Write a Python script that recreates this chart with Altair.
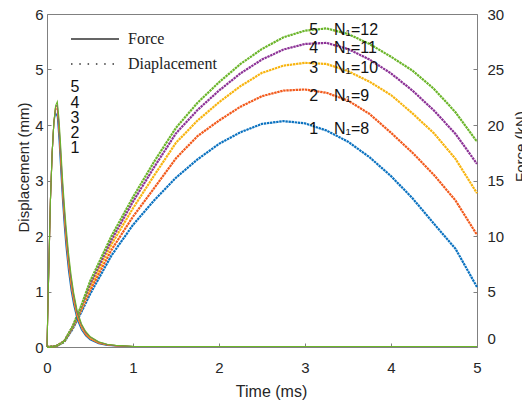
import altair as alt
import pandas as pd

# ---------------- data ----------------
series = ["1", "2", "3", "4", "5"]
colors = ["#0B72C0", "#F25A1C", "#F8B40F", "#8C3296", "#6BB52A"]

# force curves (kN) - right axis
t_force = [0, 0.02, 0.04, 0.06, 0.08, 0.10, 0.12, 0.14, 0.16, 0.18, 0.20, 0.22,
           0.25, 0.28, 0.31, 0.35, 0.40, 0.45, 0.50, 0.60, 0.70, 0.80, 1.0,
           1.5, 2.0, 3.0, 4.0, 5.0]
force_1 = [0, 6.75, 13.25, 17.5, 20.25, 21.1, 20.75, 18.6, 15.9, 13.25, 11.0, 9.1,
           6.85, 5.1, 3.8, 2.5, 1.55, 1.0, 0.65, 0.3, 0.15, 0.1, 0.05,
           0.05, 0.05, 0.05, 0.05, 0.05]
force_2 = [0, 6.75, 13.25, 17.5, 20.25, 21.5, 21.4, 19.4, 16.65, 14.0, 11.7, 9.75,
           7.4, 5.55, 4.15, 2.75, 1.75, 1.1, 0.75, 0.35, 0.18, 0.1, 0.05,
           0.05, 0.05, 0.05, 0.05, 0.05]
force_3 = [0, 6.75, 13.25, 17.5, 20.25, 21.65, 21.65, 19.75, 17.1, 14.4, 12.1, 10.1,
           7.75, 5.85, 4.4, 2.9, 1.85, 1.2, 0.8, 0.4, 0.2, 0.12, 0.05,
           0.05, 0.05, 0.05, 0.05, 0.05]
force_4 = [0, 6.75, 13.25, 17.5, 20.25, 21.65, 21.8, 20.0, 17.5, 14.75, 12.5, 10.5,
           8.1, 6.15, 4.65, 3.1, 2.0, 1.3, 0.9, 0.45, 0.22, 0.12, 0.05,
           0.05, 0.05, 0.05, 0.05, 0.05]
force_5 = [0, 6.75, 13.25, 17.5, 20.25, 21.75, 22.1, 20.5, 18.0, 15.25, 13.0, 11.0,
           8.5, 6.5, 4.9, 3.3, 2.1, 1.4, 0.95, 0.48, 0.25, 0.15, 0.06,
           0.05, 0.05, 0.05, 0.05, 0.05]

# displacement curves (mm) - left axis
t_disp = [0, 0.1, 0.2, 0.3, 0.4, 0.5, 0.75, 1.0, 1.25, 1.5, 1.75, 2.0, 2.25,
          2.5, 2.75, 3.0, 3.25, 3.5, 3.75, 4.0, 4.25, 4.5, 4.75, 5.0]
disp_1 = [0, 0.01, 0.09, 0.33, 0.63, 0.95, 1.65, 2.2, 2.65, 3.05, 3.38, 3.66, 3.87,
          4.02, 4.07, 4.03, 3.9, 3.7, 3.42, 3.08, 2.68, 2.22, 1.77, 1.08]
disp_2 = [0, 0.01, 0.1, 0.35, 0.67, 1.02, 1.75, 2.35, 2.87, 3.4, 3.8, 4.08, 4.33,
          4.52, 4.62, 4.64, 4.58, 4.44, 4.2, 3.86, 3.5, 3.1, 2.64, 2.02]
disp_3 = [0, 0.01, 0.1, 0.36, 0.7, 1.08, 1.85, 2.5, 3.1, 3.68, 4.08, 4.41, 4.7,
          4.94, 5.07, 5.12, 5.1, 4.97, 4.78, 4.54, 4.21, 3.85, 3.39, 2.77]
disp_4 = [0, 0.01, 0.1, 0.37, 0.73, 1.13, 1.93, 2.62, 3.25, 3.85, 4.27, 4.62, 4.93,
          5.18, 5.36, 5.46, 5.48, 5.37, 5.18, 4.93, 4.62, 4.26, 3.84, 3.30]
disp_5 = [0, 0.01, 0.1, 0.38, 0.75, 1.18, 2.0, 2.7, 3.35, 3.95, 4.4, 4.77, 5.1,
          5.37, 5.58, 5.7, 5.74, 5.64, 5.46, 5.23, 4.98, 4.65, 4.23, 3.70]

# annotations
peak_labels = ["5", "4", "3", "2", "1"]
peak_label_t = 0.326
peak_label_mm = [4.68, 4.40, 4.13, 3.85, 3.58]

curve_ids = ["5", "4", "3", "2", "1"]
curve_names = ["N\u2081=12", "N\u2081=11", "N\u2081=10", "N\u2081=9", "N\u2081=8"]
curve_label_mm = [5.72, 5.38, 5.03, 4.52, 3.92]
curve_id_t = 3.10
curve_name_t = 3.337

legend_kinds = ["Force", "Diaplacement"]

# ---------------- tables ----------------
forces = [force_1, force_2, force_3, force_4, force_5]
disps = [disp_1, disp_2, disp_3, disp_4, disp_5]
force_df = pd.DataFrame([
    {"t": t, "kN": v, "s": s, "o": i}
    for s, vals in zip(series, forces) for i, (t, v) in enumerate(zip(t_force, vals))
])
disp_df = pd.DataFrame([
    {"t": t, "mm": v, "s": s, "o": i}
    for s, vals in zip(series, disps) for i, (t, v) in enumerate(zip(t_disp, vals))
])
peak_df = pd.DataFrame({"t": [peak_label_t] * 5, "mm": peak_label_mm, "label": peak_labels})
id_df = pd.DataFrame({"t": [curve_id_t] * 5, "mm": curve_label_mm, "label": curve_ids})
name_df = pd.DataFrame({"t": [curve_name_t] * 5, "mm": curve_label_mm, "label": curve_names})
leg_df = pd.DataFrame({"t": [0, 0.1, 0, 0.1], "mm": [0, 0, 0, 0],
                       "kind": ["Force", "Force", "Diaplacement", "Diaplacement"]})

AX = "#808080"
TXT = "#262626"
FONT = "Liberation Sans"

X = alt.X("t:Q", scale=alt.Scale(domain=[0, 5], nice=False, zero=False),
          axis=alt.Axis(values=[0, 1, 2, 3, 4, 5], title="Time (ms)", offset=-4,
                        tickSize=4, tickColor=AX, domain=False, grid=False,
                        labelFont=FONT, labelFontSize=15, labelColor=TXT,
                        labelPadding=13, labelFlush=False,
                        titleFont=FONT, titleFontSize=16, titleColor=TXT,
                        titleFontWeight="normal", titleX=224, titleY=53,
                        titleBaseline="alphabetic", titleAnchor="middle", titleAlign="center"))
Y_left = alt.Y("mm:Q", scale=alt.Scale(domain=[0, 6], nice=False),
               axis=alt.Axis(values=[0, 1, 2, 3, 4, 5, 6], title="Displacement (mm)",
                             orient="left", offset=-4, tickSize=4, tickColor=AX,
                             domain=False, grid=False, labelFont=FONT, labelFontSize=15,
                             labelColor=TXT, labelPadding=4, labelFlush=False,
                             titleFont=FONT, titleFontSize=15, titleColor=TXT,
                             titleFontWeight="normal", titleAngle=270, titleX=-23,
                             titleY=153, titleBaseline="alphabetic", titleAlign="center"))
Y_right = alt.Y("kN:Q", scale=alt.Scale(domain=[0, 30], nice=False),
                axis=alt.Axis(values=[0, 5, 10, 15, 20, 25, 30], title="Force (kN)",
                              orient="right", offset=-4, tickSize=4, tickColor=AX,
                              domain=False, grid=False, labelFont=FONT, labelFontSize=15,
                              labelColor=TXT, labelPadding=10, labelFlush=False,
                              labelOffset={"condition": {"test": "datum.value === 0", "value": -9}, "value": 0},
                              titleFont=FONT, titleFontSize=15, titleColor=TXT,
                              titleFontWeight="normal", titleAngle=270, titleX=52,
                              titleY=132, titleBaseline="alphabetic", titleAlign="center"))
C = alt.Color("s:N", scale=alt.Scale(domain=series, range=colors), legend=None)

disp_layer = alt.Chart(disp_df).mark_line(strokeWidth=2.2, strokeDash=[2.4, 0.7]).encode(
    x=X, y=Y_left, color=C, order="o:Q")

peak_text = alt.Chart(peak_df).mark_text(font=FONT, fontSize=16, color="#111",
                                         align="center", baseline="middle").encode(
    x=X, y=Y_left, text="label:N")
id_text = alt.Chart(id_df).mark_text(font=FONT, fontSize=16, color="#111",
                                     align="center", baseline="middle").encode(
    x=X, y=Y_left, text="label:N")
name_text = alt.Chart(name_df).mark_text(font=FONT, fontSize=16, color="#111",
                                         align="left", baseline="middle").encode(
    x=X, y=Y_left, text="label:N")

legend_layer = alt.Chart(leg_df).mark_line(opacity=0, color="#333").encode(
    x=X, y=Y_left,
    strokeDash=alt.StrokeDash("kind:N",
        scale=alt.Scale(domain=legend_kinds, range=[[1, 0], [1.5, 6.8]]),
        legend=alt.Legend(orient="none", legendX=39, legendY=16, title=None,
                          symbolType="M-3,0H3", symbolSize=256, symbolStrokeWidth=1.3,
                          symbolStrokeColor="#333", symbolOpacity=1,
                          labelFont="Liberation Serif", labelFontSize=16,
                          labelColor="#222", labelOffset=24, rowPadding=8, padding=0)))

left = alt.layer(disp_layer, legend_layer, peak_text, id_text, name_text)

force_layer = alt.Chart(force_df).mark_line(strokeWidth=1.1).encode(
    x=X, y=Y_right, color=C, order="o:Q")

chart = alt.layer(left, force_layer).resolve_scale(y="independent").properties(
    width=430, height=333,
    padding={"left": 47, "top": 14, "right": 45, "bottom": 53},
    autosize=alt.AutoSizeParams(type="none"),
    background="white",
).configure_view(stroke=AX, strokeWidth=1)

chart.save("out.html", embed_options={"renderer": "svg", "actions": False})
